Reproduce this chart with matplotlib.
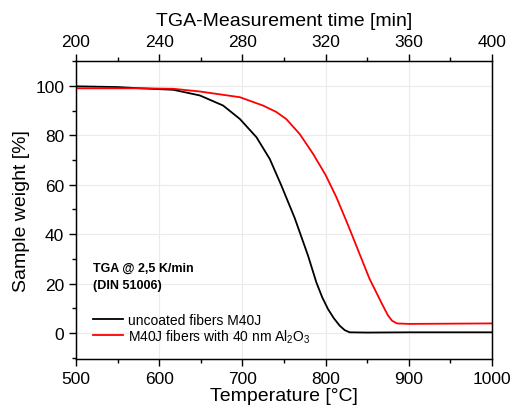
import numpy as np
import matplotlib
matplotlib.use("Agg")
import matplotlib.pyplot as plt
from matplotlib.ticker import MultipleLocator

plt.rcParams["font.family"] = ["Liberation Sans", "DejaVu Sans"]
plt.rcParams["mathtext.default"] = "regular"

# ---- data ----
temp_black = [500, 550, 577, 617, 649, 677, 697, 717, 733, 747, 763, 779, 789,
              796, 803, 810, 817, 823, 829, 850, 900, 950, 1000]
weight_black = [99.8, 99.5, 99.0, 98.4, 96.1, 92.0, 86.6, 79.2, 70.4, 59.6, 46.5,
                31.3, 20.5, 14.5, 9.7, 6.0, 3.0, 1.2, 0.3, 0.2, 0.3, 0.3, 0.3]

temp_red = [500, 577, 617, 649, 697, 725, 741, 753, 769, 785, 800, 813, 823, 829,
            845, 853, 861, 867, 875, 880, 886, 900, 950, 1000]
weight_red = [99.0, 99.0, 98.8, 97.7, 95.4, 92.0, 89.4, 86.5, 80.5, 72.5, 64.0,
              55.0, 47.0, 42.1, 28.6, 21.9, 16.5, 12.4, 7.2, 5.0, 3.9, 3.7, 3.8, 3.9]

label_black = "uncoated fibers M40J"
label_red = "M40J fibers with 40 nm Al$_2$O$_3$"

fig = plt.figure(figsize=(5.15, 4.14), dpi=100)
ax = fig.add_axes([0.1476, 0.1304, 0.8074, 0.7196])

ax.plot(temp_black, weight_black, color="black", lw=1.3, label=label_black)
ax.plot(temp_red, weight_red, color="#ff0000", lw=1.3, label=label_red)

ax.set_xlim(500, 1000)
ax.set_ylim(-10.5, 110)
ax.xaxis.set_major_locator(MultipleLocator(100))
ax.xaxis.set_minor_locator(MultipleLocator(50))
ax.yaxis.set_major_locator(MultipleLocator(20))
ax.yaxis.set_minor_locator(MultipleLocator(10))
ax.grid(True, which="major", color="#ebebeb", lw=0.8)
ax.set_axisbelow(True)
ax.tick_params(which="both", direction="out", labelsize=12.5, right=False)
ax.tick_params(which="major", length=5, width=1)
ax.tick_params(which="minor", length=3, width=1)
ax.set_xlabel("Temperature [°C]", fontsize=14, labelpad=1)
ax.set_ylabel("Sample weight [%]", fontsize=14, labelpad=4)
for s in ax.spines.values():
    s.set_linewidth(1)

# top axis: measurement time
ax2 = ax.twiny()
ax2.set_xlim(200, 400)
ax2.xaxis.set_major_locator(MultipleLocator(40))
ax2.xaxis.set_minor_locator(MultipleLocator(20))
ax2.tick_params(which="both", direction="out", labelsize=12.5)
ax2.tick_params(which="major", length=5, width=1)
ax2.tick_params(which="minor", length=3, width=1)
ax2.set_xlabel("TGA-Measurement time [min]", fontsize=14, labelpad=7)

ax.text(0.04, 0.325, "TGA @ 2,5 K/min\n(DIN 51006)", transform=ax.transAxes,
        fontsize=9, fontweight="bold", va="top", ha="left", linespacing=1.55)
ax.legend(loc="lower left", bbox_to_anchor=(0.027, 0.03), frameon=False,
          fontsize=10, handlelength=2.2, handletextpad=0.35, labelspacing=0.0,
          borderaxespad=0)

fig.savefig("out.png", dpi=100)
